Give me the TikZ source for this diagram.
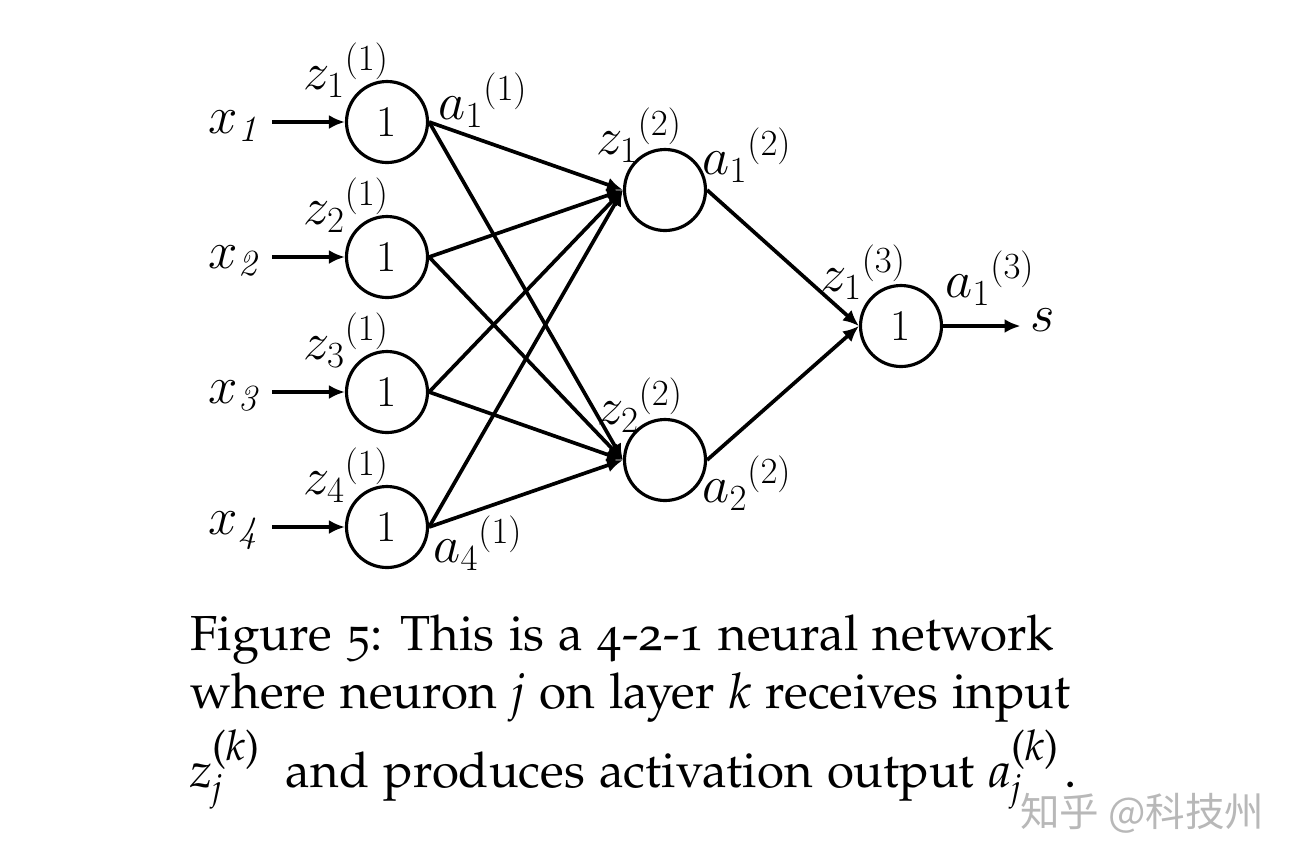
\RequirePackage{fix-cm}
\documentclass[tikz,border=0pt]{standalone}
\usepackage[T1]{fontenc}
\usepackage{fontspec}
\newfontfamily\cjk{Noto Sans CJK SC}
\usetikzlibrary{arrows.meta}
\newcommand\palfont{\fontsize{28}{34}\usefont{T1}{pplj}{m}{n}}
\newcommand\capsub{\fontsize{20}{20}\selectfont}
\newcommand\capsup{\fontsize{24}{24}\selectfont}
\newcommand\capvar[1]{\textit{#1}\rlap{\raisebox{-2.4mm}{\capsub\itshape j}}\raisebox{5.3mm}{\capsup(\itshape k\/\upshape)}}
\tikzset{
  neuron/.style={circle,draw,line width=1.8pt,minimum size=16.2mm,inner sep=0pt,font=\fontsize{25}{25}\selectfont},
  wire/.style={line width=2.1pt,-{Latex[length=3.2mm,width=2.8mm]}},
  lbl/.style={font=\fontsize{30}{30}\selectfont,inner sep=0pt},
  captext/.style={font=\palfont,inner sep=0pt,anchor=base west}
}
\begin{document}
\begin{tikzpicture}[x=0.2mm,y=-0.2mm]
\useasboundingbox (0,0) rectangle (1292,862);
\foreach \i/\y in {1/122,2/257,3/392,4/527}
{
   \node[neuron] (in\i) at (387,\y) {1};
   \node[lbl,anchor=east] (x\i) at (258,\y+4) {$x_{\mathit{\i}}$};
   \node[lbl] (z\i) at (346,\y-52) {${z_{\i}}^{(1)}$};
   \draw[wire,shorten <=2.8mm] (x\i.east |- in\i) -- (in\i.west);
}
\node[lbl] (a1) at (483,100) {${a_1}^{(1)}$};
\node[lbl] (a4) at (478,543) {${a_4}^{(1)}$};

\node[neuron] (h1) at (665,190) {};
\node[neuron] (h2) at (665,460) {};
\node[lbl] (zh1) at (639,135) {${z_1}^{(2)}$};
\node[lbl] (ah1) at (747,155) {${a_1}^{(2)}$};
\node[lbl] (zh2) at (640,405) {${z_2}^{(2)}$};
\node[lbl] (ah2) at (747,483) {${a_2}^{(2)}$};

\node[neuron] (out) at (901,326) {1};
\node[lbl] (zo) at (863,272) {${z_1}^{(3)}$};
\node[lbl] (ao) at (990,278) {${a_1}^{(3)}$};
\node[lbl] (s) at (1043,320) {$s$};

\foreach \i in {1,...,4}
   \foreach \j in {1,2}
      \draw[wire] (in\i.east) -- (h\j.west);
\foreach \j in {1,2}
   \draw[wire] (h\j.east) -- (out.west);
\draw[wire,shorten >=2mm] (out.east) -- (out.east -| s.west);

\node[captext] (cap1) at (190,650) {Figure 5: This is a 4-2-1 neural network};
\node[captext] (cap2) at (190,708) {where neuron {\itshape j} on layer {\itshape k} receives input};
\node[captext] (cap3) at (190,787) {\capvar{z}\hspace{0.25em} and produces activation output \capvar{a}\hspace{0.12em}.};
\node[anchor=base west,inner sep=0pt,text=black!28,font=\cjk\fontsize{22.5}{22.5}\selectfont] (mark) at (1020,826) {知乎 @科技州};
\end{tikzpicture}
\end{document}
